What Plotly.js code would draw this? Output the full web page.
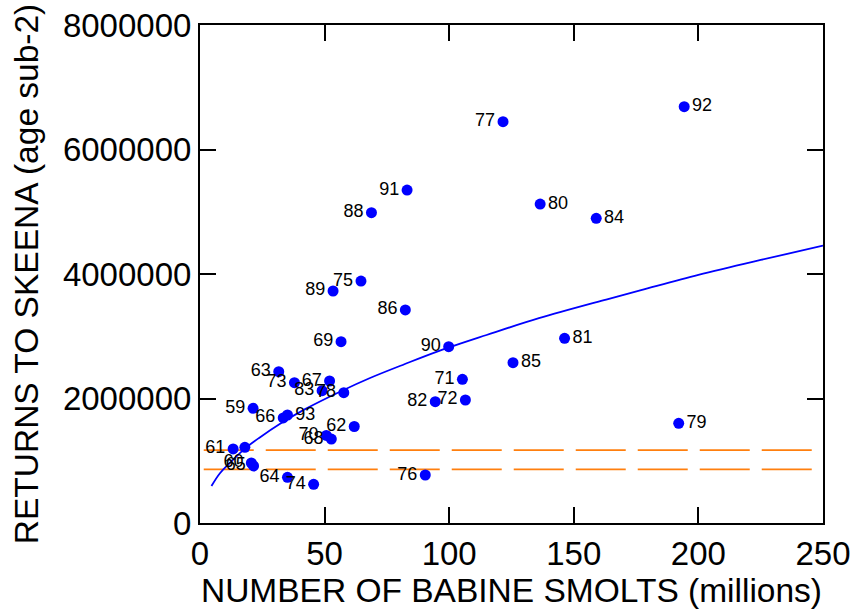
<!DOCTYPE html>
<html>
<head>
<meta charset="utf-8">
<script src="https://cdn.plot.ly/plotly-3.0.1.min.js"></script>
<style>
  html, body { margin: 0; padding: 0; background: #fff; }
  #chart { width: 856px; height: 616px; }
</style>
</head>
<body>
<div id="chart"></div>
<script>
// Brood years (last two digits) with Babine smolt counts (millions) and returns to the Skeena
const years = ["59","60","61","62","63","64","65","66","67","68","69","70","71","72","73","74","75","76",
               "77","78","79","80","81","82","83","84","85","86","","88","89","90","91","92","93"];
const smolts = [21.3, 20.6, 13.3, 61.9, 31.6, 35.1, 21.5, 33.4, 52.0, 52.7, 56.6, 50.7, 105.3, 106.5, 37.9, 45.6, 64.6, 90.4,
                121.6, 57.7, 192.1, 136.5, 146.3, 94.4, 49.0, 159.0, 125.6, 82.4, 18.0, 68.8, 53.4, 99.8, 83.1, 194.3, 35.1];
const returns = [1843000, 964000, 1189000, 1550000, 2430000, 734000, 916000, 1687000, 2281000, 1349000, 2912000, 1406000,
                 2308000, 1976000, 2254000, 622000, 3887000, 771000, 6447000, 2093000, 1602000, 5124000, 2967000, 1949000,
                 2125000, 4895000, 2575000, 3422000, 1216000, 4985000, 3727000, 2832000, 5349000, 6687000, 1735000];
// years whose label sits to the right of the point
const rightLabelled = ["79","80","81","84","85","92","93"];

// fitted stock-recruit curve
const fitX = [4.6, 8, 12, 18, 24, 32, 42, 57, 68, 82, 96, 115, 136, 163, 177, 200, 225, 250];
const fitY = [594000, 800000, 965000, 1195000, 1375000, 1590000, 1825000, 2125000, 2325000, 2550000, 2765000,
              3020000, 3290000, 3590000, 3740000, 3985000, 4225000, 4455000];

// reference levels (dashed)
const refX = [1.5, 250];
const refUpper = [1170000, 1170000];
const refLower = [860000, 860000];

const textPos = years.map(y => rightLabelled.includes(y) ? "middle right" : "middle left");

const font = "Liberation Sans, Arial, Helvetica, sans-serif";

const traces = [
  { x: refX, y: refUpper, mode: "lines", line: { color: "#ff7f0e", width: 1.8, dash: "50px,12px" },
    hoverinfo: "skip", showlegend: false },
  { x: refX, y: refLower, mode: "lines", line: { color: "#ff7f0e", width: 1.8, dash: "50px,12px" },
    hoverinfo: "skip", showlegend: false },
  { x: fitX, y: fitY, mode: "lines", line: { color: "#0000ff", width: 1.8, shape: "spline" },
    showlegend: false },
  { x: smolts, y: returns, mode: "markers+text", text: years, textposition: textPos,
    textfont: { family: font, size: 18, color: "#000" },
    marker: { color: "#0000ff", size: 11 }, showlegend: false, cliponaxis: false }
];

const axisCommon = {
  showline: true, linecolor: "#000", linewidth: 2, mirror: "ticks",
  ticks: "inside", ticklen: 16, tickwidth: 2, tickcolor: "#000",
  showgrid: false, zeroline: false,
  tickfont: { family: font, size: 33, color: "#000" }
};

const layout = {
  width: 856, height: 616,
  margin: { l: 199.5, r: 33, t: 25, b: 93 },
  paper_bgcolor: "#fff", plot_bgcolor: "#fff",
  xaxis: Object.assign({}, axisCommon, {
    range: [0, 250], tickvals: [0, 50, 100, 150, 200, 250],
    title: { text: "NUMBER OF BABINE SMOLTS (millions)", font: { family: font, size: 33.5, color: "#000" }, standoff: 8 }
  }),
  yaxis: Object.assign({}, axisCommon, {
    range: [0, 8000000], tickvals: [0, 2000000, 4000000, 6000000, 8000000],
    ticktext: ["0", "2000000", "4000000", "6000000", "8000000"],
    title: { text: "RETURNS TO SKEENA (age sub-2)", font: { family: font, size: 33.5, color: "#000" }, standoff: 14 }
  })
};

Plotly.newPlot("chart", traces, layout, { staticPlot: true, displayModeBar: false });
</script>
</body>
</html>
